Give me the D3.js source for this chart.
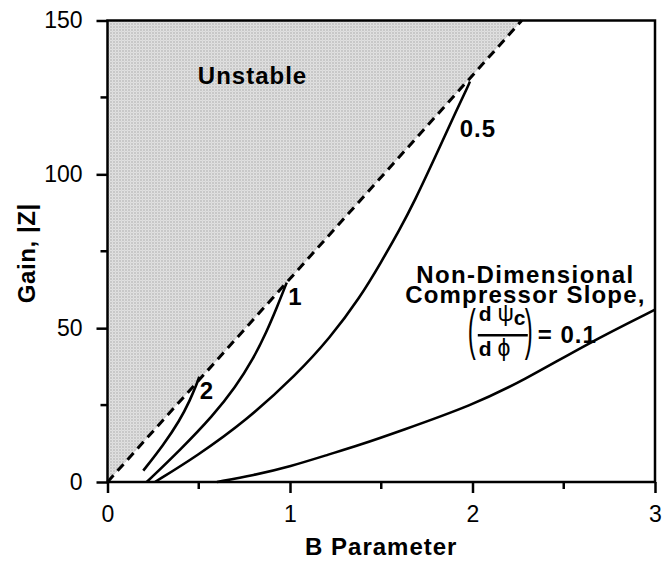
<!DOCTYPE html>
<meta charset="utf-8">
<title>Gain vs B Parameter</title>
<style>
body { margin: 0; background: #fff; }
text { font-family: "Liberation Sans", Arial, Helvetica, sans-serif; fill: #000; }
.tick text { font-size: 23px; }
.lbl { font-size: 24px; font-weight: bold; letter-spacing: 1px; }
.curve { fill: none; stroke: #000; stroke-width: 2.6px; }
</style>
<body>
<svg></svg>
<script src="https://cdn.jsdelivr.net/npm/d3@7"></script>
<script>

var width = 662,
    height = 561;

// data
var xTicks = [0, 1, 2, 3],
    xMinor = [0.5, 1.5, 2.5],
    yTicks = [0, 50, 100, 150],
    yMinor = [25, 75, 125];

var boundary = [[0, 0], [2.27, 150]];   // stability limit (dashed)

var slope2 = [[0.196, 3.7], [0.306, 12.0], [0.397, 20.1], [0.452, 26.6], [0.489, 31.8], [0.503, 34.2]];
var slope1 = [[0.215, 0], [0.4, 10.5], [0.58, 21.7], [0.7, 30.7], [0.8, 40.2], [0.87, 48.6],
              [0.93, 57], [0.982, 64.8]];
var slope05 = [[0.26, 0], [0.489, 8.4], [0.763, 20.1], [1.037, 35], [1.219, 46.8], [1.384, 60],
               [1.5, 71.5], [1.6, 82], [1.676, 90.4], [1.822, 109], [1.913, 120.9], [1.977, 128.8], [1.986, 130.2]];
var slope01 = [[0.6, 0], [0.8, 2.2], [1, 5], [1.22, 9.1], [1.38, 12], [1.6, 16.5], [2, 25],
               [2.28, 33], [2.63, 45], [3, 56]];

var margin = {top: 20.5, right: 7, bottom: 79, left: 107.5},
    w = width - margin.left - margin.right,
    h = height - margin.top - margin.bottom;

var svg = d3.select("svg").attr("width", width).attr("height", height);

var defs = svg.append("defs");
var pat = defs.append("pattern")
    .attr("id", "stipple")
    .attr("width", 3).attr("height", 3)
    .attr("patternUnits", "userSpaceOnUse");
pat.append("rect").attr("width", 3).attr("height", 3).attr("fill", "#e8e8e8");
pat.append("rect").attr("width", 1).attr("height", 1).attr("fill", "#777");
pat.append("rect").attr("x", 1.5).attr("y", 1.5).attr("width", 1).attr("height", 1).attr("fill", "#aaa");

var g = svg.append("g").attr("transform", "translate(" + margin.left + "," + margin.top + ")");

var x = d3.scaleLinear().domain([0, 3]).range([0, w]),
    y = d3.scaleLinear().domain([0, 150]).range([h, 0]);

var line = d3.line().x(d => x(d[0])).y(d => y(d[1])).curve(d3.curveBasis);

// unstable region
var region = [boundary[0], boundary[1], [0, 150]];
g.append("path")
    .datum(region)
    .attr("d", d3.line().x(d => x(d[0])).y(d => y(d[1])))
    .attr("fill", "url(#stipple)");

g.append("path")
    .datum(boundary)
    .attr("d", d3.line().x(d => x(d[0])).y(d => y(d[1])))
    .attr("fill", "none").attr("stroke", "#000")
    .attr("stroke-width", 3).attr("stroke-dasharray", "9,6");

[slope2, slope1, slope05, slope01].forEach(function(s){
    g.append("path").datum(s).attr("class", "curve").attr("d", line);
});

// axes
var xAxis = g.append("g").attr("transform", "translate(0," + h + ")")
    .call(d3.axisBottom(x).tickValues(xTicks).tickFormat(d3.format("d")).tickSize(11).tickPadding(13));
xAxis.append("g").selectAll("line").data(xMinor).join("line")
    .attr("x1", d => x(d)).attr("x2", d => x(d)).attr("y1", 0).attr("y2", 7);

var yAxis = g.append("g")
    .call(d3.axisLeft(y).tickValues(yTicks).tickFormat(d3.format("d")).tickSize(11).tickPadding(14));
yAxis.append("g").selectAll("line").data(yMinor).join("line")
    .attr("x1", 0).attr("x2", -7).attr("y1", d => y(d)).attr("y2", d => y(d));

[xAxis, yAxis].forEach(function(a){
    a.select(".domain").remove();
    a.selectAll("line").attr("stroke", "#000").attr("stroke-width", 2.5);
    a.selectAll("text").attr("fill", "#000").style("font-family", "'Liberation Sans', Arial, sans-serif");
});

// frame
g.append("rect").attr("width", w).attr("height", h)
    .attr("fill", "none").attr("stroke", "#000").attr("stroke-width", 2.5);

// axis titles
svg.append("text").attr("class", "lbl")
    .attr("x", margin.left + w / 2).attr("y", 555).attr("text-anchor", "middle")
    .text("B Parameter");
svg.append("text").attr("class", "lbl")
    .attr("transform", "translate(35," + (margin.top + h / 2 + 2) + ") rotate(-90)")
    .attr("text-anchor", "middle").style("letter-spacing", "0.6px")
    .text("Gain, |Z|");

// annotations
g.append("text").attr("class", "lbl").attr("x", x(0.495)).attr("y", y(129.3)).text("Unstable");
g.append("text").attr("class", "lbl").attr("x", x(0.505)).attr("y", y(27)).text("2");
g.append("text").attr("class", "lbl").attr("x", x(0.99)).attr("y", y(57.5)).text("1");
g.append("text").attr("class", "lbl").attr("x", x(1.93)).attr("y", y(112.2)).text("0.5");

var nx = x(2.29), ny = y(64.8);
g.append("text").attr("class", "lbl").attr("x", nx).attr("y", ny).attr("text-anchor", "middle")
    .style("letter-spacing", "1.4px").text("Non-Dimensional");
g.append("text").attr("class", "lbl").attr("x", nx).attr("y", ny + 20).attr("text-anchor", "middle")
    .style("letter-spacing", "1.2px").text("Compressor Slope,");

// (dψc/dφ) = 0.1
var fx = x(2.029), fy = y(47.7);   // fraction bar left end
var frac = g.append("g").attr("transform", "translate(" + fx + "," + fy + ")");
frac.append("text").attr("transform", "translate(-10,13) scale(1,2.35)")
    .style("font-size", "24px").text("(");
frac.append("text").attr("transform", "translate(47,13) scale(1,2.35)")
    .style("font-size", "24px").text(")");
frac.append("line").attr("x1", 0).attr("x2", 50).attr("y1", 0).attr("y2", 0)
    .attr("stroke", "#000").attr("stroke-width", 2.5);
var num = frac.append("text").attr("x", 1).attr("y", -14)
    .style("font-size", "21px").style("font-weight", "bold");
num.append("tspan").text("d ");
num.append("tspan").style("font-weight", "normal").style("font-size", "23px").text("ψ");
num.append("tspan").attr("dy", 4).text("c");
var den = frac.append("text").attr("x", 1).attr("y", 21)
    .style("font-size", "21px").style("font-weight", "bold");
den.append("tspan").text("d ");
den.append("tspan").style("font-weight", "normal").style("font-size", "23px").text("ϕ");
frac.append("text").attr("class", "lbl").attr("x", 60).attr("y", 8).text("= 0.1");

</script>
</body>
